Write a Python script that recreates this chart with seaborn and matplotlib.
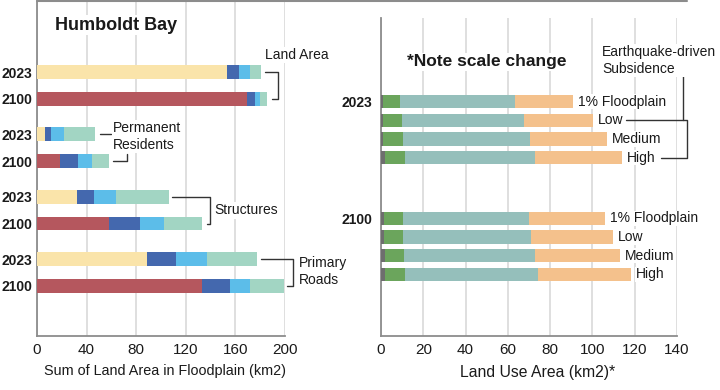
import numpy as np
import pandas as pd
import matplotlib.pyplot as plt
from matplotlib.lines import Line2D
import seaborn as sns

# ---- data: left panel (Humboldt Bay, sum of land area in floodplain, km2)
categories = ["Land Area", "Permanent Residents", "Structures", "Primary Roads"]
years = ["2023", "2100"]
segments = ["Floodplain", "Low", "Medium", "High"]
left_2023 = [
    [153.0, 9.6, 9.2, 8.8],
    [6.7, 4.3, 10.8, 25.0],
    [32.0, 13.7, 17.7, 43.3],
    [88.4, 23.4, 25.6, 40.0],
]
left_2100 = [
    [169.6, 6.2, 4.0, 5.4],
    [18.5, 14.8, 11.1, 13.9],
    [58.0, 25.0, 19.7, 30.3],
    [132.8, 22.6, 16.6, 27.0],
]

# ---- data: right panel (land use area, km2)
scenarios = ["1% Floodplain", "Low", "Medium", "High"]
landuse = ["Use A", "Use B", "Use C", "Use D"]
right_2023 = [
    [0.9, 8.2, 54.4, 27.3],
    [0.9, 9.2, 57.5, 32.5],
    [0.9, 9.5, 60.1, 36.5],
    [2.0, 9.2, 61.8, 41.1],
]
right_2100 = [
    [1.3, 9.1, 59.4, 36.3],
    [1.3, 9.1, 60.7, 38.6],
    [2.0, 9.0, 61.7, 40.5],
    [2.0, 9.5, 62.9, 43.8],
]

# colours
yellow, red = "#FAE4AA", "#B5575E"
dblue, lblue, teal = "#4468AE", "#5CBDE9", "#A2D5C3"
r_cols = ["#6E6E6E", "#6BA55C", "#95BFBB", "#F4C18C"]
spine_c = "#8c8c8c"
grid_c = "#d6d6d6"
ink = "#1a1a1a"

sns.set_theme(style="white")
plt.rcParams["font.family"] = ["Liberation Sans", "DejaVu Sans"]
plt.rcParams["text.color"] = ink
plt.rcParams["axes.labelcolor"] = ink
plt.rcParams["xtick.color"] = ink
plt.rcParams["ytick.color"] = ink


def stacked(ax, df, y, hue, order, hue_order, cols, palettes, width, gap):
    cum = df[cols].cumsum(axis=1)
    for k in reversed(range(len(cols))):
        d = df[[y, hue]].copy()
        d["value"] = cum.iloc[:, k]
        sns.barplot(data=d, x="value", y=y, hue=hue, order=order,
                    hue_order=hue_order, palette=palettes[k], orient="h",
                    width=width, gap=gap, linewidth=0, errorbar=None,
                    saturation=1, legend=False, ax=ax, zorder=3)


def style_axes(ax):
    for s in ["top", "right"]:
        ax.spines[s].set_visible(False)
    for s in ["left", "bottom"]:
        ax.spines[s].set_color(spine_c)
        ax.spines[s].set_linewidth(1.3)
    ax.grid(axis="x", color=grid_c, lw=1.1, zorder=0)
    ax.grid(axis="y", visible=False)
    ax.set_axisbelow(True)
    ax.tick_params(axis="x", which="both", direction="in", length=5,
                   color=spine_c, width=1, labelsize=11, pad=5)
    ax.tick_params(axis="y", length=0, labelsize=10)
    ax.set_ylabel("")


fig = plt.figure(figsize=(7.2, 3.9), dpi=100)
axL = fig.add_axes([37 / 720, 54 / 390, 248 / 720, 335 / 390])
axR = fig.add_axes([381 / 720, 54 / 390, 296 / 720, 318 / 390])

# ---------------- left panel
rows = []
for i, c in enumerate(categories):
    rows.append([c, "2023"] + left_2023[i])
    rows.append([c, "2100"] + left_2100[i])
dfL = pd.DataFrame(rows, columns=["category", "year"] + segments)
palL = [
    {"2023": yellow, "2100": red},
    {"2023": dblue, "2100": dblue},
    {"2023": lblue, "2100": lblue},
    {"2023": teal, "2100": teal},
]
stacked(axL, dfL, "category", "year", categories, years, segments, palL, 0.86, 0.48)

yc = {}
for yr, cont in zip(years, axL.containers[:2]):
    for c, bar in zip(categories, cont):
        yc[(c, yr)] = bar.get_y() + bar.get_height() / 2

axL.set_xlim(0, 200)
axL.set_ylim(4.02, -1.356)
axL.set_xticks(np.arange(0, 201, 40))
axL.set_xticks(np.arange(20, 200, 40), minor=True)
ticks = sorted(yc.items(), key=lambda kv: kv[1])
axL.set_yticks([v for _, v in ticks])
axL.set_yticklabels([k[1] for k, _ in ticks], fontweight="bold")
axL.tick_params(axis="y", pad=3.5)
style_axes(axL)
axL.set_xlabel("Sum of Land Area in Floodplain (km2)", fontsize=10.4, labelpad=4)
axL.xaxis.set_label_coords(0.516, -0.085)

box = dict(facecolor="white", edgecolor="none", pad=1)
axL.text(14.5, -0.97, "Humboldt Bay", fontsize=13, fontweight="bold",
         va="center", bbox=box, zorder=5)

lk = dict(color="#333333", lw=1, clip_on=False, zorder=4)
# Land Area
a, b = yc[("Land Area", "2023")], yc[("Land Area", "2100")]
axL.plot([183.9, 194.4, 194.4, 189.5], [a, a, b, b], **lk)
axL.text(183.9, -0.49, "Land Area", fontsize=10, va="center", bbox=box, zorder=5)
# Permanent Residents
a, b = yc[("Permanent Residents", "2023")], yc[("Permanent Residents", "2100")]
axL.plot([50.8, 59.7], [a, a], **lk)
axL.plot([61.3, 72.6, 72.6], [b, b, 1.099], **lk)
axL.text(61.3, 0.82, "Permanent\nResidents", fontsize=10, va="center",
         linespacing=1.25, bbox=box, zorder=5)
# Structures
a, b = yc[("Structures", "2023")], yc[("Structures", "2100")]
axL.plot([108.9, 139.5, 139.5, 137.1], [a, a, b, b], **lk)
axL.text(142.7, 2.0, "Structures", fontsize=10, va="center", bbox=box, zorder=5)
# Primary Roads
a, b = yc[("Primary Roads", "2023")], yc[("Primary Roads", "2100")]
axL.plot([180.6, 206.5, 206.5, 201.6], [a, a, b, b], **lk)
axL.text(211.3, 2.98, "Primary\nRoads", fontsize=10, va="center",
         linespacing=1.25, bbox=box, zorder=5, clip_on=False)

# ---------------- right panel
rows = []
for i, s in enumerate(scenarios):
    rows.append(["2023", s] + right_2023[i])
    rows.append(["2100", s] + right_2100[i])
dfR = pd.DataFrame(rows, columns=["year", "scenario"] + landuse)
palR = [{s: col for s in scenarios} for col in r_cols]
stacked(axR, dfR, "year", "scenario", years, scenarios, landuse, palR, 0.638, 0.28)

axR.set_xlim(0, 140)
axR.set_ylim(1.768, -0.957)
axR.set_xticks(np.arange(0, 141, 20))

ends = {}
for s, cont in zip(scenarios, axR.containers[:4]):
    for yr, bar in zip(years, cont):
        ends[(yr, s)] = (bar.get_width(), bar.get_y() + bar.get_height() / 2)

axR.set_yticks([ends[(yr, scenarios[0])][1] for yr in years])
axR.set_yticklabels(years, fontweight="bold")
style_axes(axR)
axR.tick_params(axis="y", pad=6)
axR.set_xlabel("Land Use Area (km2)*", fontsize=11.3, labelpad=4)
axR.xaxis.set_label_coords(0.529, -0.092)

labels = {}
for (yr, s), (x, y) in ends.items():
    labels[(yr, s)] = axR.annotate(s, (x, y), xytext=(5, 0), textcoords="offset pixels",
                                   fontsize=10, va="center", ha="left",
                                   bbox=dict(facecolor="white", edgecolor="none", pad=0.5),
                                   zorder=5, annotation_clip=False)

axR.text(12.3, -0.58, "*Note scale change", fontsize=12.5, fontweight="bold",
         va="center", bbox=box, zorder=5)
axR.text(104.5, -0.593, "Earthquake-driven\nSubsidence", fontsize=10, va="center",
         linespacing=1.2, bbox=box, zorder=5, clip_on=False)

fig.canvas.draw()
inv = axR.transData.inverted()
low_end = inv.transform(labels[("2023", "Low")].get_window_extent().p1)[0]
high_end = inv.transform(labels[("2023", "High")].get_window_extent().p1)[0]
y_low = ends[("2023", "Low")][1]
y_high = ends[("2023", "High")][1]
axR.plot([low_end + 1.5, 144.8, 144.8, high_end + 2.2],
         [y_low, y_low, y_high, y_high], **lk)
axR.plot([142.9, 142.9], [-0.58, y_low], **lk)

# frame line across the top
fig.add_artist(Line2D([37 / 720, 687 / 720], [0.997, 0.997], color=spine_c, lw=1.5))

fig.savefig("out.png", dpi=100)
